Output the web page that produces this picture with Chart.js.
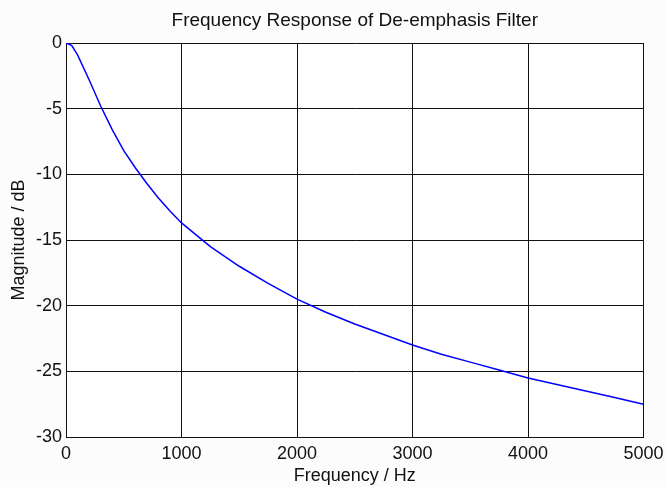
<!DOCTYPE html>
<html>
<head>
<meta charset="utf-8">
<script src="https://cdn.jsdelivr.net/npm/chart.js@4/dist/chart.umd.min.js"></script>
<style>
  html, body { margin: 0; padding: 0; background: #fcfcfc; }
  #myChart { display: block; }
</style>
</head>
<body>
<canvas id="myChart" width="666" height="487"></canvas>
<script>
// values
const freqHz = [0, 50, 100, 200, 300, 400, 500, 600, 700, 800, 900, 1000,
  1250, 1500, 1750, 2000, 2250, 2500, 2750, 3000, 3250, 3500, 3750, 4000,
  4250, 4500, 4750, 5000];
const magDb = [0, -0.2, -0.9, -2.8, -4.8, -6.6, -8.2, -9.5, -10.7, -11.8, -12.8, -13.7,
  -15.5, -17.0, -18.3, -19.5, -20.5, -21.4, -22.2, -23.0, -23.7, -24.3, -24.9, -25.5,
  -26.0, -26.5, -27.0, -27.5];
const xTicks = [0, 1000, 2000, 3000, 4000, 5000];
const yTicks = [0, -5, -10, -15, -20, -25, -30];

const points = freqHz.map((f, i) => ({ x: f, y: magDb[i] }));

const whiteArea = {
  id: "whiteArea",
  beforeDraw(chart) {
    const { ctx, chartArea: a } = chart;
    ctx.save();
    ctx.fillStyle = "#ffffff";
    ctx.fillRect(a.left, a.top, a.right - a.left, a.bottom - a.top);
    ctx.restore();
  }
};

const font = { family: "Liberation Sans, Arial, sans-serif", size: 18, weight: "normal" };

new Chart("myChart", {
  type: "line",
  data: {
    datasets: [{
      data: points,
      borderColor: "#0000ff",
      borderWidth: 1.5,
      pointRadius: 0,
      fill: false,
      tension: 0
    }]
  },
  options: {
    responsive: false,
    animation: false,
    layout: { padding: { right: 22.5 } },
    plugins: {
      legend: { display: false },
      tooltip: { enabled: false },
      title: {
        display: true,
        text: "Frequency Response of De-emphasis Filter",
        color: "#111",
        fullSize: false,
        font: { ...font, size: 19 },
        padding: { top: 9.5, bottom: 10.7 }
      }
    },
    scales: {
      x: {
        type: "linear",
        min: 0,
        max: 5000,
        afterBuildTicks: s => { s.ticks = xTicks.map(v => ({ value: v })); },
        afterFit: s => { s.height = 50; s.paddingLeft = 0; s.paddingRight = 0; },
        grid: { color: "#111", lineWidth: 1, drawTicks: false },
        border: { color: "#111", width: 1 },
        ticks: { color: "#111", font: font, padding: 6, maxRotation: 0, callback: v => String(v) },
        title: { display: true, text: "Frequency / Hz", color: "#111", font: font, padding: { top: 0, bottom: 0 } }
      },
      y: {
        min: -30,
        max: 0,
        afterBuildTicks: s => { s.ticks = yTicks.map(v => ({ value: v })); },
        afterFit: s => { s.width = 66; },
        grid: { color: "#111", lineWidth: 1, drawTicks: false },
        border: { color: "#111", width: 1 },
        ticks: { color: "#111", font: font, padding: 4, callback: v => String(v) },
        title: { display: true, text: "Magnitude / dB", color: "#111", font: font, padding: { top: 8, bottom: 0 } }
      }
    }
  },
  plugins: [whiteArea]
});
</script>
</body>
</html>
